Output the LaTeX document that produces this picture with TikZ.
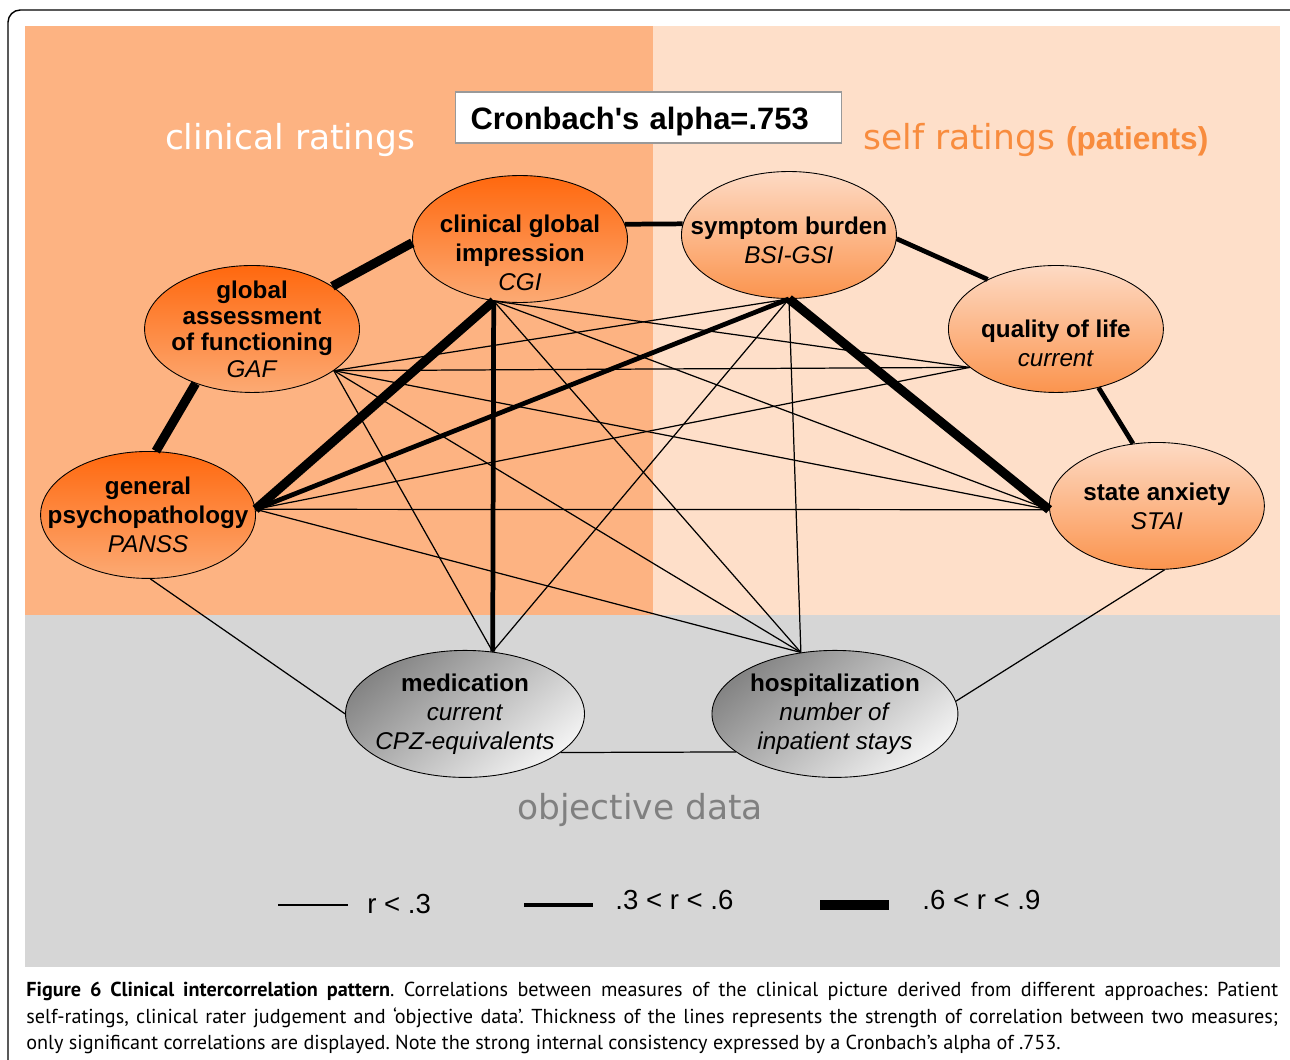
\documentclass[tikz,border=0pt]{standalone}
\usepackage{fontspec}
\setmainfont{Liberation Sans}
\newfontfamily\thinfont{DejaVu Sans}
\newfontfamily\capfont{PT Sans}
\usepackage{tikz}
\usetikzlibrary{positioning, shapes.geometric}
\definecolor{clinbg}{RGB}{253,179,130}
\definecolor{selfbg}{RGB}{254,223,201}
\definecolor{objbg}{RGB}{214,214,214}
\definecolor{clintop}{RGB}{255,104,14}
\definecolor{clinbot}{RGB}{252,170,116}
\definecolor{selftop}{RGB}{253,218,196}
\definecolor{selfbot}{RGB}{251,148,78}
\definecolor{selftext}{RGB}{248,140,62}
\definecolor{objtext}{RGB}{128,128,128}

\begin{document}
\begin{tikzpicture}[
    x=0.02cm, y=-0.02cm, on grid,
    clinnode/.style={ellipse, draw=black, line width=0.5pt, minimum width=4.3cm, minimum height=2.54cm, top color=clintop, bottom color=clinbot},
    selfnode/.style={clinnode, top color=selftop, bottom color=selfbot},
    objnode/.style={clinnode, minimum width=4.78cm, top color=black!48, bottom color=black!5, shading angle=40},
    ntext/.style={align=center, font=\fontsize{13.8}{16.5}\selectfont},
    rweak/.style={line width=0.7pt},
    rmid/.style={line width=2.7pt},
    rstrong/.style={line width=5.2pt},
    region/.style={inner sep=0pt, font=\thinfont\fontsize{19.6}{22}\selectfont},
    legtext/.style={anchor=west, inner sep=0pt, font=\fontsize{15.7}{18}\selectfont}
]
\useasboundingbox (0,0) rectangle (1290,1060);

% backgrounds
\fill[clinbg] (25,26) rectangle (653,615);
\fill[selfbg] (653,26) rectangle (1280,615);
\fill[objbg] (25,615) rectangle (1280,967);
\draw[line width=0.8pt, rounded corners=7pt] (8,1060) -- (8,10) -- (1290,10);

\node[draw=black!40, fill=white, line width=0.6pt, anchor=west, inner xsep=0.3cm, text width=7.12cm, align=left, minimum height=1.02cm, text height=14pt, text depth=0.6pt, font=\bfseries\fontsize{17.6}{20}\selectfont] (alpha) at (455,117.5) {Cronbach\textquotesingle s alpha=.753};

\node[region, text=white] (clintitle) at (290,140) {clinical ratings};
\node[region, text=selftext, anchor=west] (selftitle) at (863,140) {self ratings {\normalfont\bfseries\fontsize{18}{20}\selectfont(patients)}};
\node[region, text=objtext] (objtitle) at (640,810) {objective data};

% measures
\node[clinnode] (cgi) at (520,239) {};
\node[selfnode, above right=0.08cm and 5.38cm of cgi] (bsi) {};
\node[clinnode, below left=1.8cm and 5.36cm of cgi] (gaf) {};
\node[clinnode, below left=3.72cm and 2.08cm of gaf] (panss) {};
\node[selfnode, below right=1.88cm and 5.34cm of bsi] (qol) {};
\node[selfnode, below right=3.54cm and 2.02cm of qol] (stai) {};
\node[objnode, below left=9.5cm and 1.1cm of cgi] (med) {};
\node[objnode, minimum width=4.92cm, right=7.4cm of med] (hosp) {};

\node[ntext] (cgitext) at ([yshift=-0.28cm]cgi.center) {\textbf{clinical global}\\\textbf{impression}\\\textit{CGI}};
\node[ntext] (bsitext) at ([yshift=-0.1cm]bsi.center) {\textbf{symptom burden}\\\textit{BSI-GSI}};
\node[ntext] (gaftext) at (gaf.center) {\textbf{global}\\[-1.5pt]\textbf{assessment}\\[-1.5pt]\textbf{of functioning}\\[-1.5pt]\textit{GAF}};
\node[ntext] (panstext) at (panss.center) {\textbf{general}\\\textbf{psychopathology}\\\textit{PANSS}};
\node[ntext] (qoltext) at ([yshift=-0.28cm]qol.center) {\textbf{quality of life}\\\textit{current}};
\node[ntext] (staitext) at (stai.center) {\textbf{state anxiety}\\\textit{STAI}};
\node[ntext] (medtext) at (med.center) {\textbf{medication}\\\textit{current}\\\textit{CPZ-equivalents}};
\node[ntext] (hosptext) at (hosp.center) {\textbf{hospitalization}\\\textit{number of}\\\textit{inpatient stays}};

% .6 < r < .9
\draw[rstrong] (gaf.28) -- (cgi.182);
\draw[rstrong] (gaf.224) -- (panss.83);
\draw[rstrong] (cgi.247) -- (panss.3);
\draw[rstrong] (bsi.south) -- (stai.182);
% .3 < r < .6
\draw[rmid] (cgi.8) -- (bsi.174);
\draw[rmid] (bsi.-2) -- (qol.144);
\draw[rmid] (qol.306) -- (stai.111);
\draw[rmid] (bsi.south) -- (panss.3);
\draw[rmid] (cgi.247) -- (med.66);
% r < .3
\draw[rweak] (cgi.247) -- (qol.204);
\draw[rweak] (cgi.247) -- (stai.182);
\draw[rweak] (cgi.247) -- (hosp.119);
\draw[rweak] (gaf.-27) -- (bsi.south);
\draw[rweak] (gaf.-27) -- (qol.204);
\draw[rweak] (gaf.-27) -- (stai.182);
\draw[rweak] (gaf.-27) -- (hosp.119);
\draw[rweak] (gaf.-27) -- (med.66);
\draw[rweak] (panss.3) -- (qol.204);
\draw[rweak] (panss.3) -- (stai.182);
\draw[rweak] (panss.3) -- (hosp.119);
\draw[rweak] (panss.272) -- (med.180);
\draw[rweak] (bsi.south) -- (med.66);
\draw[rweak] (bsi.south) -- (hosp.119);
\draw[rweak] (stai.277) -- (hosp.6);
\draw[rweak] (med.-22) -- (hosp.201);

% legend
\draw[rweak] (278,905) -- (348,905);
\node[legtext] (legweak) at (367,904) {r < .3};
\draw[rmid] (524,905) -- (593,905);
\node[legtext] (legmid) at (615,900) {.3 < r < .6};
\draw[rstrong] (820,905) -- (889,905);
\node[legtext] (legstrong) at (922,900) {.6 < r < .9};

\node[anchor=north west, inner sep=0pt, text width=25.04cm, align=justify, font=\capfont\fontsize{11.5}{15}\selectfont] (caption) at (26,982) {\frenchspacing\hyphenpenalty=10000 \textbf{Figure 6 Clinical intercorrelation pattern}. Correlations between measures of the clinical picture derived from different approaches: Patient\linebreak self-ratings, clinical rater judgement and ‘objective data’. Thickness of the lines represents the strength of correlation between two measures;\linebreak only significant correlations are displayed. Note the strong internal consistency expressed by a Cronbach’s alpha of .753.};
\end{tikzpicture}
\end{document}
